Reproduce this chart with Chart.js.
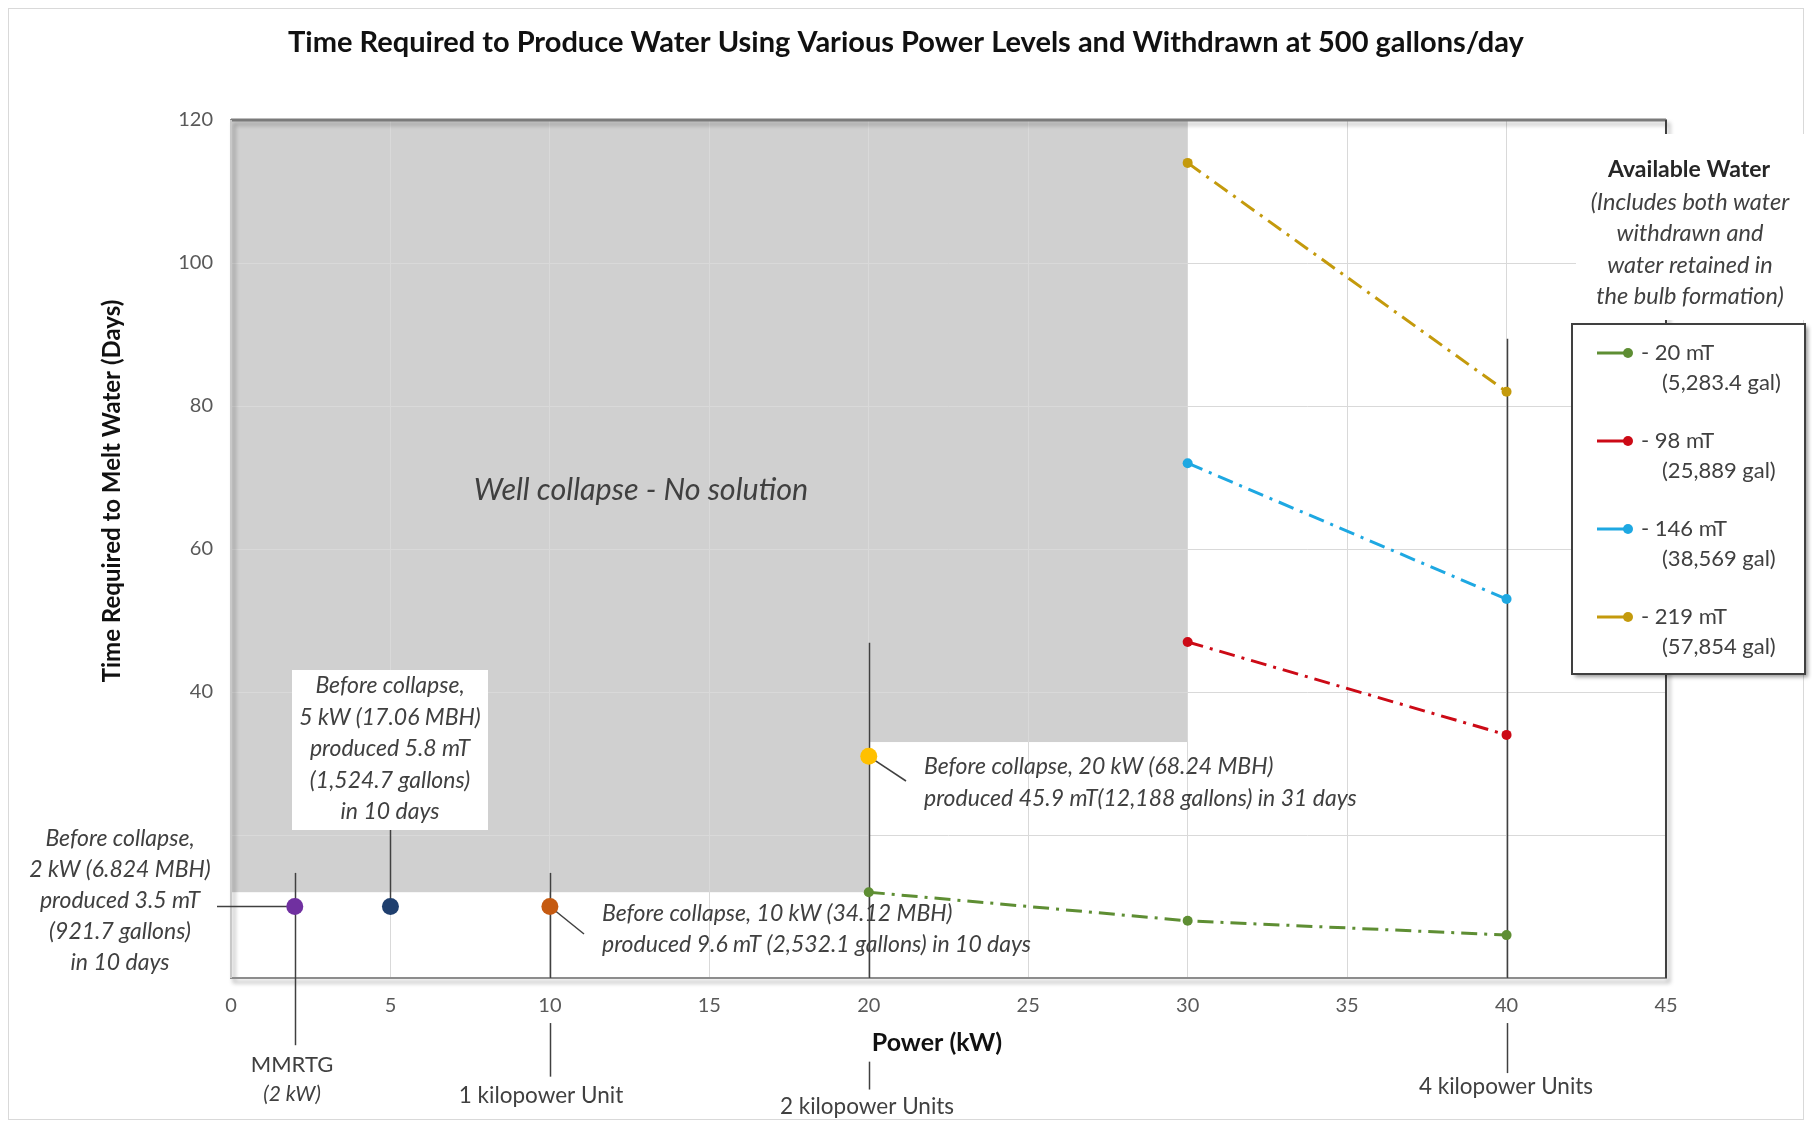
<!DOCTYPE html>
<html>
<head>
<meta charset="utf-8">
<script src="https://cdn.jsdelivr.net/npm/chart.js@4"></script>
<style>
  html, body { margin: 0; background: #fff; }
  canvas { display: block; }
</style>
</head>
<body>
<canvas id="myChart" width="1812" height="1125"></canvas>
<script>
// Data
const powerKW = [20, 30, 40];
const days20mT = [12, 8, 6];
const days98mT = [null, 47, 34];
const days146mT = [null, 72, 53];
const days219mT = [null, 114, 82];
const seriesNames = ['20 mT', '98 mT', '146 mT', '219 mT'];
const seriesGallons = ['(5,283.4 gal)', '(25,889 gal)', '(38,569 gal)', '(57,854 gal)'];

// single "before collapse" points
const collapsePowerKW = [2, 5, 10, 20];
const collapseDays = [10, 10, 10, 31];

// grey "well collapse" zone: floor of the zone between power steps
const zonePowerKW = [0, 20, 30];
const zoneFloorDays = [12, 33];
const zoneTopDays = 120;

// vertical marker lines (power, from day, to day)
const markerPowerKW = [2, 5, 10, 10, 20, 20, 40, 40];
const markerFromDays = [14.7, 10, 14.7, -6.3, 46.9, -11.7, 89.4, -6.3];
const markerToDays = [-9.4, 20.7, 0, -13.8, 0, -15.6, 0, -13.3];

const xTicks = [0, 5, 10, 15, 20, 25, 30, 35, 40, 45];
const yTicks = [0, 20, 40, 60, 80, 100, 120];
const yTickLabels = ['', '', '40', '60', '80', '100', '120'];

const FONT = 'Lato, "Open Sans", sans-serif';
const TEXT = '#404040';

const seriesColors = ['#5e8e33', '#cc0a16', '#1ea8e2', '#c49a0c'];
const collapseColors = ['#7030a0', '#1f3f6e', '#c55a11', '#ffc000'];

const toPoints = (xs, ys) => xs.map((x, i) => ({ x: x, y: ys[i] })).filter(p => p.y !== null);

const seriesData = [days20mT, days98mT, days146mT, days219mT];

const datasets = seriesData.map((ys, i) => ({
    label: seriesNames[i],
    data: toPoints(powerKW, ys),
    borderColor: seriesColors[i],
    backgroundColor: seriesColors[i],
    borderWidth: 3,
    borderDash: [16, 7, 3, 7],
    pointRadius: 5,
    pointBorderWidth: 0,
    tension: 0
}));

collapsePowerKW.forEach((x, i) => {
    datasets.push({
        label: 'collapse ' + x,
        data: [{ x: x, y: collapseDays[i] }],
        showLine: false,
        backgroundColor: collapseColors[i],
        borderColor: collapseColors[i],
        pointRadius: 8.5,
        pointBorderWidth: 0
    });
});

const text = (ctx, str, x, y, font, align, color) => {
    ctx.font = font;
    ctx.textAlign = align || 'center';
    ctx.textBaseline = 'middle';
    ctx.fillStyle = color || TEXT;
    ctx.fillText(str, x, y);
};

const line = (ctx, x1, y1, x2, y2, color, width) => {
    ctx.beginPath();
    ctx.moveTo(x1, y1);
    ctx.lineTo(x2, y2);
    ctx.strokeStyle = color;
    ctx.lineWidth = width;
    ctx.stroke();
};

const decor = {
    id: 'decor',
    beforeDraw(chart) {
        const { ctx, scales: { x, y } } = chart;
        ctx.save();
        ctx.fillStyle = '#fff';
        ctx.fillRect(0, 0, chart.width, chart.height);
        ctx.strokeStyle = '#d9d9d9';
        ctx.lineWidth = 1;
        ctx.strokeRect(8.5, 8.5, chart.width - 17, chart.height - 14);
        // collapse zone
        ctx.fillStyle = '#d0d0d0';
        for (let i = 0; i < zoneFloorDays.length; i++) {
            const x1 = x.getPixelForValue(zonePowerKW[i]);
            const x2 = x.getPixelForValue(zonePowerKW[i + 1]);
            const yt = y.getPixelForValue(zoneTopDays);
            const yb = y.getPixelForValue(zoneFloorDays[i]);
            ctx.fillRect(x1, yt, x2 - x1, yb - yt);
        }
        ctx.restore();
    },
    beforeDatasetsDraw(chart) {
        const { ctx, chartArea: a, scales: { x, y } } = chart;
        ctx.save();
        // plot frame with shadow
        ctx.shadowColor = 'rgba(0,0,0,0.35)';
        ctx.shadowBlur = 4;
        ctx.shadowOffsetX = 3;
        ctx.shadowOffsetY = 4;
        ctx.strokeStyle = '#8c8c8c';
        ctx.lineWidth = 2;
        ctx.strokeRect(a.left, a.top, a.right - a.left, a.bottom - a.top);
        ctx.shadowColor = 'transparent';
        line(ctx, a.left, a.top, a.right, a.top, '#7a7a7a', 3);
        line(ctx, a.right, a.top, a.right, a.bottom, '#404040', 2);
        line(ctx, a.left, a.top, a.left, a.bottom, '#c8c8c8', 2);
        // vertical marker lines
        markerPowerKW.forEach((p, i) => {
            const px = Math.round(x.getPixelForValue(p)) + 0.5;
            line(ctx, px, y.getPixelForValue(markerFromDays[i]), px, y.getPixelForValue(markerToDays[i]), '#404040', 1.5);
        });
        // leader lines to the collapse points
        const p2 = { x: x.getPixelForValue(2), y: y.getPixelForValue(10) };
        line(ctx, 217, p2.y, p2.x, p2.y, '#404040', 1.5);
        const p10 = { x: x.getPixelForValue(10), y: y.getPixelForValue(10) };
        line(ctx, p10.x, p10.y, 584, 934, '#404040', 1.5);
        const p20 = { x: x.getPixelForValue(20), y: y.getPixelForValue(31) };
        line(ctx, p20.x, p20.y, 906, 781, '#404040', 1.5);
        ctx.restore();
    },
    afterDraw(chart) {
        const { ctx } = chart;
        ctx.save();
        const it = 'italic 23px ' + FONT;

        // title
        text(ctx, 'Time Required to Produce Water Using Various Power Levels and Withdrawn at 500 gallons/day',
            906, 43, 'bold 29px ' + FONT, 'center', '#111');

        // axis titles
        text(ctx, 'Power (kW)', 937, 1043, 'bold 25px ' + FONT, 'center', '#111');
        ctx.save();
        ctx.translate(112, 491);
        ctx.rotate(-Math.PI / 2);
        text(ctx, 'Time Required to Melt Water (Days)', 0, 0, 'bold 24px ' + FONT, 'center', '#111');
        ctx.restore();

        // labels under the axis
        const sm = '22.5px ' + FONT;
        text(ctx, 'MMRTG', 292, 1065, '22px ' + FONT);
        text(ctx, '(2 kW)', 292, 1094, 'italic 21px ' + FONT);
        text(ctx, '1 kilopower Unit', 541, 1096, sm);
        text(ctx, '2 kilopower Units', 867, 1107, sm);
        text(ctx, '4 kilopower Units', 1506, 1087, sm);

        // zone label
        text(ctx, 'Well collapse - No solution', 641, 490, 'italic 30.5px ' + FONT);

        // 2 kW note
        ['Before collapse,', '2 kW (6.824 MBH)', 'produced 3.5 mT', '(921.7 gallons)', 'in 10 days']
            .forEach((s, i) => text(ctx, s, 120, 839 + i * 31, it));

        // 5 kW boxed note
        ctx.fillStyle = '#fff';
        ctx.fillRect(292, 670, 196, 160);
        ['Before collapse,', '5 kW (17.06 MBH)', 'produced 5.8 mT', '(1,524.7 gallons)', 'in 10 days']
            .forEach((s, i) => text(ctx, s, 390, 686 + i * 31.5, it));

        // 10 kW note
        text(ctx, 'Before collapse, 10 kW (34.12 MBH)', 602, 914, it, 'left');
        text(ctx, 'produced 9.6 mT (2,532.1 gallons) in 10 days', 602, 945, it, 'left');

        // 20 kW note
        text(ctx, 'Before collapse, 20 kW (68.24 MBH)', 924, 767, it, 'left');
        text(ctx, 'produced 45.9 mT(12,188 gallons) in 31 days', 924, 799, it, 'left');

        // legend heading
        ctx.fillStyle = '#fff';
        ctx.fillRect(1576, 134, 230, 186);
        text(ctx, 'Available Water', 1689, 170, 'bold 23px ' + FONT, 'center', '#262626');
        ['(Includes both water', 'withdrawn and', 'water retained in', 'the bulb formation)']
            .forEach((s, i) => text(ctx, s, 1690, 202 + i * 31.5, 'italic 23.5px ' + FONT));

        // legend box
        ctx.save();
        ctx.shadowColor = 'rgba(0,0,0,0.4)';
        ctx.shadowBlur = 4;
        ctx.shadowOffsetX = 3;
        ctx.shadowOffsetY = 3;
        ctx.fillStyle = '#fff';
        ctx.fillRect(1572, 324, 233, 350);
        ctx.restore();
        ctx.strokeStyle = '#404040';
        ctx.lineWidth = 2;
        ctx.strokeRect(1572, 324, 233, 350);
        seriesNames.forEach((name, i) => {
            const ly = 353 + i * 88;
            line(ctx, 1597, ly, 1630, ly, seriesColors[i], 3);
            ctx.beginPath();
            ctx.arc(1628, ly, 5, 0, Math.PI * 2);
            ctx.fillStyle = seriesColors[i];
            ctx.fill();
            text(ctx, '- ' + name, 1641, ly, '22px ' + FONT, 'left');
            text(ctx, seriesGallons[i], 1662, ly + 30, '22px ' + FONT, 'left');
        });
        ctx.restore();
    }
};

const ctx = document.getElementById('myChart').getContext('2d');
const myChart = new Chart(ctx, {
    type: 'line',
    data: { datasets: datasets },
    options: {
        responsive: false,
        animation: false,
        layout: { padding: { left: 171, top: 120, right: 146, bottom: 107 } },
        plugins: {
            legend: { display: false },
            title: { display: false },
            tooltip: { enabled: false }
        },
        scales: {
            x: {
                type: 'linear',
                min: xTicks[0],
                max: xTicks[xTicks.length - 1],
                afterBuildTicks: s => { s.ticks = xTicks.map(v => ({ value: v })); },
                afterFit: s => { s.height = 40; },
                ticks: { color: '#595959', font: { family: FONT, size: 20 }, padding: 16 },
                grid: { color: '#d9d9d9', drawTicks: false },
                border: { display: false }
            },
            y: {
                min: yTicks[0],
                max: yTicks[yTicks.length - 1],
                afterBuildTicks: s => { s.ticks = yTicks.map(v => ({ value: v })); },
                afterFit: s => { s.width = 60; },
                ticks: {
                    color: '#595959',
                    font: { family: FONT, size: 20 },
                    padding: 18,
                    callback: (v) => yTickLabels[yTicks.indexOf(v)]
                },
                grid: { color: '#d9d9d9', drawTicks: false },
                border: { display: false }
            }
        }
    },
    plugins: [decor]
});
</script>
</body>
</html>
